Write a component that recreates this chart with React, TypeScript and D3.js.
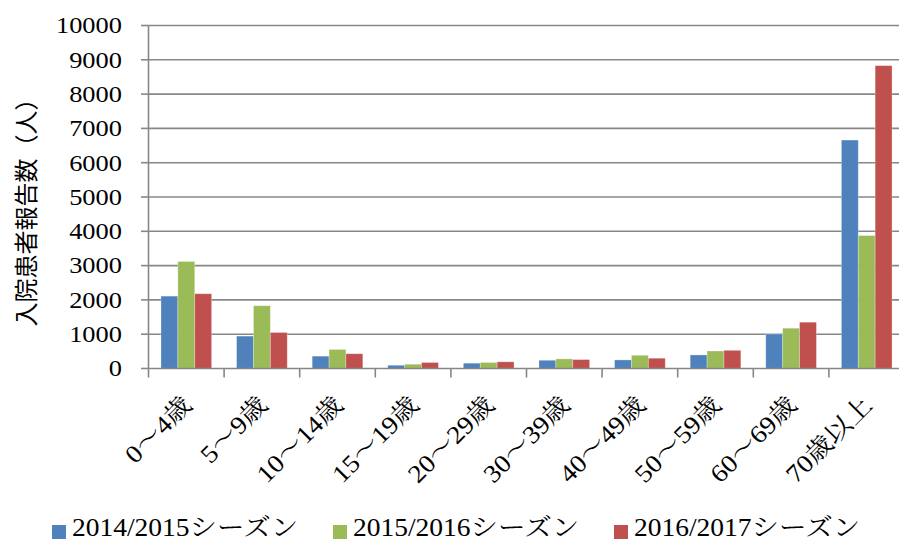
import React from "react";
import * as d3 from "d3";

const categories = ["0〜4歳", "5〜9歳", "10〜14歳", "15〜19歳", "20〜29歳", "30〜39歳", "40〜49歳", "50〜59歳", "60〜69歳", "70歳以上"];
const seriesNames = ["2014/2015シーズン", "2015/2016シーズン", "2016/2017シーズン"];
const s2014 = [2110, 945, 360, 95, 155, 240, 250, 395, 1005, 6660];
const s2015 = [3120, 1830, 555, 125, 175, 280, 385, 510, 1175, 3875];
const s2016 = [2180, 1050, 430, 175, 195, 260, 300, 530, 1350, 8830];
const yTicks = [0, 1000, 2000, 3000, 4000, 5000, 6000, 7000, 8000, 9000, 10000];
const colors = ["#4F81BD", "#9BBB59", "#C0504D"];

export default function App() {
  const W = 899, H = 540;
  const left = 148.5, right = 904.5, top = 25.5, bottom = 368.5;
  const series = [s2014, s2015, s2016];
  const x = d3.scaleBand<string>().domain(categories).range([left, right]).paddingInner(0).paddingOuter(0);
  const y = d3.scaleLinear().domain([0, 10000]).range([bottom, top]);
  const cw = x.bandwidth();
  const inner = d3.scaleBand<number>().domain([0, 1, 2]).range([cw * 0.165, cw * 0.835]);
  const serif = "'Liberation Serif', 'Noto Serif CJK JP', serif";
  const legendX = [52, 333, 614];
  return (
    <svg width={W} height={H} style={{ position: "absolute", left: 0, top: 0, background: "#fff" }}>
      {yTicks.map((t) => (
        <g key={t}>
          {t > 0 && <line x1={left} x2={W} y1={y(t)} y2={y(t)} stroke="#878787" strokeWidth={1.6} />}
          <line x1={141} x2={left} y1={y(t)} y2={y(t)} stroke="#878787" strokeWidth={1.6} />
          <text transform={`translate(122,${y(t)}) scale(1.15,1)`} dy="0.34em" textAnchor="end" fontFamily={serif} fontSize={23} fill="#000">{t}</text>
        </g>
      ))}
      {series.map((vals, si) =>
        vals.map((v, ci) => (
          <rect key={si + "-" + ci} x={(x(categories[ci]) as number) + (inner(si) as number)} y={y(v)} width={inner.bandwidth()} height={bottom - y(v)} fill={colors[si]} stroke="#ffffff" strokeOpacity={0.35} strokeWidth={0.8} />
        ))
      )}
      <line x1={left} x2={left} y1={top} y2={bottom} stroke="#878787" strokeWidth={1.6} />
      <line x1={left} x2={W} y1={bottom} y2={bottom} stroke="#878787" strokeWidth={1.6} />
      {categories.map((c, i) => (
        <line key={"tk" + i} x1={left + cw * i} x2={left + cw * i} y1={bottom} y2={bottom + 9} stroke="#878787" strokeWidth={1.6} />
      ))}
      {categories.map((c) => {
        const cx = (x(c) as number) + cw / 2;
        return (
          <text key={"lb" + c} transform={`translate(${cx + 7},${bottom + 38}) rotate(-45) scale(1.1,1)`} textAnchor="end" fontFamily={serif} fontSize={25} fill="#000">{c}</text>
        );
      })}
      <text transform={`translate(34.5,206.5) rotate(-90)`} textAnchor="middle" fontFamily="'Noto Sans CJK JP', sans-serif" fontSize={24} fill="#000">入院患者報告数（人）</text>
      {seriesNames.map((n, i) => (
        <g key={n}>
          <rect x={legendX[i]} y={525} width={14} height={14} fill={colors[i]} />
          <text transform={`translate(${legendX[i] + 20},536) scale(1.1,1)`} fontFamily={serif} fontSize={25} fill="#000">{n}</text>
        </g>
      ))}
    </svg>
  );
}
